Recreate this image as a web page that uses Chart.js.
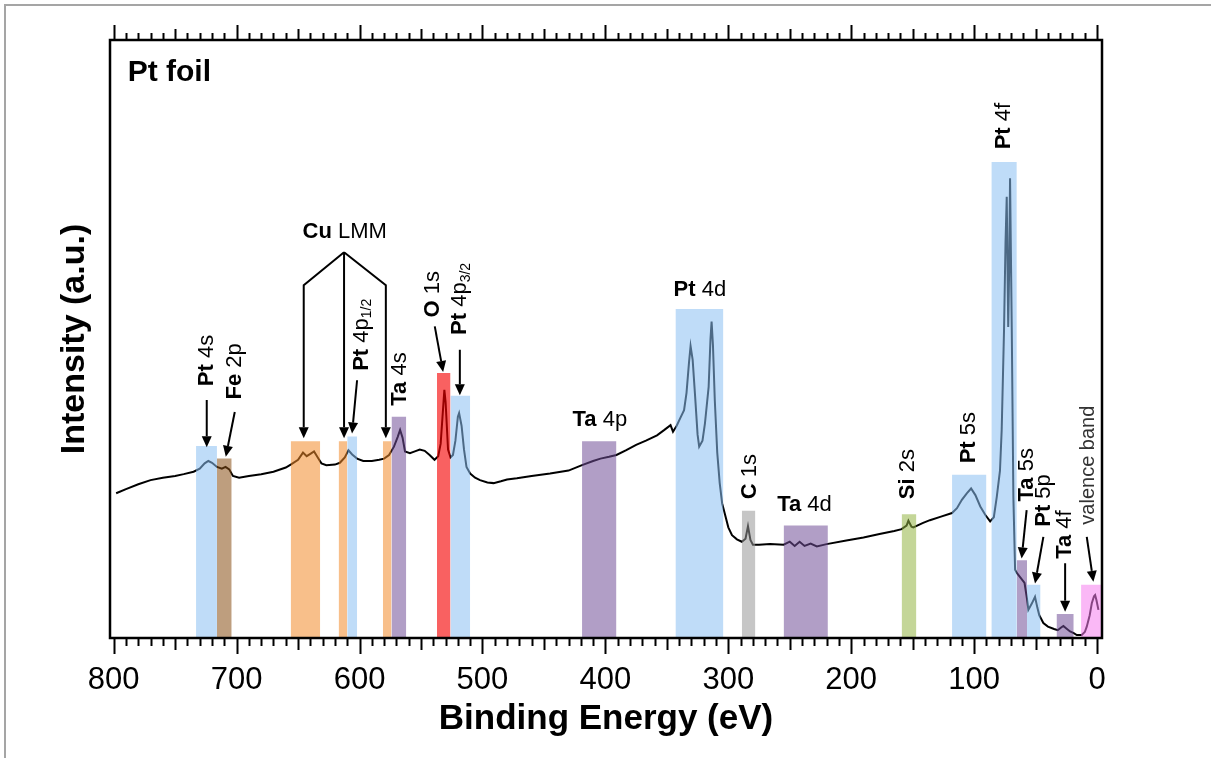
<!DOCTYPE html>
<html>
<head>
<meta charset="utf-8">
<title>Pt foil XPS survey</title>
<script src="https://cdn.jsdelivr.net/npm/chart.js@4.4.1/dist/chart.umd.min.js"></script>
<style>
  html, body { margin: 0; padding: 0; background: #fff; }
  #wrap { position: relative; width: 1211px; height: 758px; }
</style>
</head>
<body>
<div id="wrap"><canvas id="xps-chart"></canvas></div>
<script>
// survey spectrum, binding energy (eV) and intensity (a.u.)
const energy = [
  798, 790, 780, 770, 760, 750, 743, 735, 730, 726,
  723, 720, 716, 712, 709, 706, 703, 698, 690, 680,
  670, 660, 656, 650, 646, 643, 640, 637, 634, 631,
  627, 620, 616, 612, 609, 606, 602, 597, 590, 584,
  580, 576, 572, 569, 567, 565, 563, 559, 555, 551,
  547, 543, 539, 536, 534, 532, 531, 530, 528, 526,
  524, 522, 520, 519, 517, 515, 513, 510, 506, 502,
  496, 491, 485, 480, 472, 460, 445, 430, 419, 410,
  404, 397, 391, 383, 375, 367, 358, 352, 347, 345,
  342, 339, 336, 334, 332, 330.7, 329, 327, 325, 323.7,
  321, 319, 316, 314.5, 313.6, 312.5, 311, 309, 307, 305,
  303, 300, 297, 293, 289, 286, 284, 282, 280, 275,
  266, 255, 250, 246, 242, 238, 233, 228, 220, 204,
  190, 177, 165, 159, 155, 153.5, 151, 149.5, 142, 136,
  127, 118, 114, 110, 106, 102.5, 99, 95, 91, 87,
  84, 81.6, 79, 77.6, 75.7, 74.5, 73.5, 72.3, 71.5, 70.8,
  69.4, 68.1, 66.7, 65, 62, 59, 57, 55.9, 53, 50.5,
  48.5, 47, 43.7, 40, 35, 32, 29, 27.4, 25, 22,
  19, 16.5, 12.5, 10, 8.4, 6, 4.3, 2.5, 1.6, 0.5,
  -1.1
];
const intensity = [
  24.2, 24.9, 25.7, 26.4, 26.8, 27.1, 27.4, 27.8, 28.3, 29.2,
  29.6, 29.3, 28.6, 28.3, 28.6, 28.2, 27.1, 26.8, 27.1, 27.4,
  27.8, 28.5, 29.0, 29.8, 31.0, 30.4, 30.8, 31.2, 30.2, 29.2,
  28.9, 29.0, 29.3, 30.2, 31.4, 30.7, 30.0, 29.6, 29.6, 29.8,
  30.0, 30.6, 32.0, 33.6, 34.8, 33.5, 31.2, 30.9, 31.2, 31.5,
  31.3, 30.6, 29.8, 30.4, 32.5, 38.5, 41.5, 39.5, 31.5, 30.2,
  30.6, 33.0, 37.0, 37.6, 35.5, 31.5, 28.6, 27.5, 26.8, 26.4,
  26.0, 25.9, 26.2, 26.5, 26.7, 27.1, 27.5, 28.0, 28.9, 29.6,
  30.0, 30.3, 30.6, 31.4, 32.3, 33.0, 33.9, 34.8, 35.6, 34.5,
  35.5, 36.8, 38.1, 41.0, 46.0, 48.8, 46.5, 40.4, 34.0, 32.0,
  33.0, 35.9, 42.0, 50.0, 52.9, 49.0, 39.8, 31.0, 25.9, 22.5,
  20.9, 18.5, 17.2, 16.5, 16.1, 16.6, 18.7, 16.4, 15.6, 15.6,
  15.7, 15.6, 16.1, 15.4, 16.1, 15.4, 15.8, 15.3, 15.7, 16.3,
  16.8, 17.4, 17.9, 18.2, 18.8, 19.6, 18.6, 18.5, 19.2, 19.7,
  20.3, 20.9, 21.7, 23.1, 24.2, 25.0, 23.9, 22.0, 20.6, 19.5,
  20.2, 23.6, 28.0, 34.8, 51.5, 66.0, 73.8, 52.0, 62.0, 76.9,
  51.5, 23.6, 11.4, 10.8, 10.0, 9.2, 6.5, 4.7, 5.8, 6.9,
  5.0, 3.8, 2.5, 1.9, 1.5, 1.3, 1.8, 2.0, 1.6, 1.1,
  0.8, 0.5, 0.5, 1.0, 1.9, 3.8, 5.8, 7.0, 7.2, 6.3,
  4.7
];

// marked regions (eV from, eV to, height)
const bandNames   = ['Pt 4s', 'Fe 2p', 'Cu LMM', 'Cu LMM', 'Pt 4p1/2', 'Cu LMM', 'Ta 4s', 'O 1s', 'Pt 4p3/2', 'Ta 4p',
                     'Pt 4d', 'C 1s', 'Ta 4d', 'Si 2s', 'Pt 5s', 'Pt 4f', 'Ta 5s', 'Pt 5p', 'Ta 4f', 'valence band'];
const bandElement = ['Pt', 'Fe', 'Cu', 'Cu', 'Pt', 'Cu', 'Ta', 'O', 'Pt', 'Ta',
                     'Pt', 'C', 'Ta', 'Si', 'Pt', 'Pt', 'Ta', 'Pt', 'Ta', 'VB'];
const bandFrom = [733, 716, 656, 617, 610, 581, 574, 537, 526, 419, 343, 289, 255, 159, 118, 86, 65.3, 57, 33, 13];
const bandTo   = [716, 704, 632, 610, 602, 574, 562, 526, 510, 391, 304, 278, 219, 147, 90, 65.3, 57, 46, 19, -4];
const bandTop  = [32.1, 30.0, 32.9, 32.9, 33.7, 32.9, 37.0, 44.3, 40.5, 32.9, 55.0, 21.3, 18.8, 20.7, 27.3, 79.6, 13.0, 8.9, 4.0, 8.9];

const xTicks = [800, 700, 600, 500, 400, 300, 200, 100, 0];

const elementColors = {
  Pt: 'rgba(139, 191, 242, 0.55)',
  Fe: 'rgba(137, 79, 20, 0.55)',
  Cu: 'rgba(242, 139, 42, 0.55)',
  Ta: 'rgba(113, 78, 151, 0.55)',
  O:  'rgba(245, 0, 0, 0.62)',
  C:  'rgba(151, 151, 151, 0.55)',
  Si: 'rgba(148, 180, 68, 0.55)',
  VB: 'rgba(246, 126, 239, 0.55)'
};

// annotations in data coordinates
const peakLabels = [
  { parts: [['Pt foil', 'B']], x: 788.6, y: 94.6, align: 'left' },
  { parts: [['Pt', 'b'], [' 4s', 'n']], x: 724.3, y: 46.4, rot: true },
  { parts: [['Fe', 'b'], [' 2p', 'n']], x: 701.5, y: 44.6, rot: true },
  { parts: [['Cu', 'b'], [' LMM', 'n']], x: 612.0, y: 67.9 },
  { parts: [['Pt', 'b'], [' 4p', 'n'], ['1/2', 's']], x: 598.4, y: 50.7, rot: true },
  { parts: [['Ta', 'b'], [' 4s', 'n']], x: 567.2, y: 43.3, rot: true },
  { parts: [['O', 'b'], [' 1s', 'n']], x: 540.1, y: 57.5, rot: true },
  { parts: [['Pt', 'b'], [' 4p', 'n'], ['3/2', 's']], x: 518.4, y: 56.7, rot: true },
  { parts: [['Ta', 'b'], [' 4p', 'n']], x: 404.5, y: 36.5 },
  { parts: [['Pt', 'b'], [' 4d', 'n']], x: 323.1, y: 58.2 },
  { parts: [['C', 'b'], [' 1s', 'n']], x: 282.8, y: 27.0, rot: true },
  { parts: [['Ta', 'b'], [' 4d', 'n']], x: 238.0, y: 22.2 },
  { parts: [['Si', 'b'], [' 2s', 'n']], x: 153.6, y: 27.4, rot: true },
  { parts: [['Pt', 'b'], [' 5s', 'n']], x: 103.9, y: 33.5, rot: true },
  { parts: [['Pt', 'b'], [' 4f', 'n']], x: 75.7, y: 85.6, rot: true },
  { parts: [['Ta', 'b'], [' 5s', 'n']], x: 57.2, y: 27.3, rot: true },
  { parts: [['Pt', 'b'], [' 5p', 'n']], x: 43.1, y: 23.0, rot: true },
  { parts: [['Ta', 'b'], [' 4f', 'n']], x: 26.0, y: 17.3, rot: true },
  { parts: [['valence band', 't']], x: 7.1, y: 28.9, rot: true }
];

const arrows = [
  [[724.3, 39.8], [724.3, 31.9]],
  [[701.5, 37.8], [708.8, 30.3]],
  [[612.6, 64.5], [645.4, 59.0], [645.4, 33.4]],
  [[612.6, 64.5], [612.6, 33.4]],
  [[612.6, 64.5], [578.6, 59.0], [578.6, 33.4]],
  [[602.0, 43.1], [606.1, 34.2]],
  [[538.8, 52.1], [532.0, 44.5]],
  [[518.4, 48.2], [518.4, 40.6]],
  [[57.3, 21.4], [61.4, 13.3]],
  [[43.7, 16.9], [50.5, 9.1]],
  [[26.0, 12.5], [26.0, 4.4]],
  [[8.4, 16.9], [3.0, 9.4]]
];

const FONT = "'Liberation Sans', Arial, sans-serif";
const labelFonts = {
  B: 'bold 30px ' + FONT,
  b: 'bold 22px ' + FONT,
  n: '22px ' + FONT,
  s: '14px ' + FONT,
  t: '20px ' + FONT
};

function drawArrow(ctx, pts) {
  ctx.beginPath();
  const n = pts.length;
  const [tx, ty] = pts[n - 1];
  const [px, py] = pts[n - 2];
  const ang = Math.atan2(ty - py, tx - px);
  const head = 11;
  ctx.moveTo(pts[0][0], pts[0][1]);
  for (let i = 1; i < n - 1; i++) ctx.lineTo(pts[i][0], pts[i][1]);
  ctx.lineTo(tx - Math.cos(ang) * head, ty - Math.sin(ang) * head);
  ctx.stroke();
  ctx.beginPath();
  ctx.moveTo(tx, ty);
  ctx.lineTo(tx - Math.cos(ang) * head - Math.sin(ang) * 5, ty - Math.sin(ang) * head + Math.cos(ang) * 5);
  ctx.lineTo(tx - Math.cos(ang) * head + Math.sin(ang) * 5, ty - Math.sin(ang) * head - Math.cos(ang) * 5);
  ctx.closePath();
  ctx.fill();
}

function drawLabel(ctx, lab, xs, ys) {
  const px = xs.getPixelForValue(lab.x);
  const py = ys.getPixelForValue(lab.y);
  let total = 0;
  const widths = lab.parts.map(([t, k]) => {
    ctx.font = labelFonts[k];
    const w = ctx.measureText(t).width;
    total += w;
    return w;
  });
  ctx.save();
  ctx.translate(px, py);
  if (lab.rot) ctx.rotate(-Math.PI / 2);
  ctx.textBaseline = 'middle';
  ctx.textAlign = 'left';
  ctx.fillStyle = lab.parts[0][1] === 't' ? '#333' : '#000';
  let cx = lab.align === 'left' ? 0 : -total / 2;
  lab.parts.forEach(([t, k], i) => {
    ctx.font = labelFonts[k];
    ctx.fillText(t, cx, k === 's' ? 6 : 0);
    cx += widths[i];
  });
  ctx.restore();
}

const xpsDecor = {
  id: 'xpsDecor',
  beforeDraw(chart) {
    const ctx = chart.ctx;
    ctx.save();
    ctx.strokeStyle = '#a5a5a5';
    ctx.lineWidth = 2;
    ctx.beginPath();
    ctx.moveTo(4, 5);
    ctx.lineTo(chart.width, 5);
    ctx.moveTo(5, 4);
    ctx.lineTo(5, chart.height);
    ctx.stroke();
    ctx.restore();
  },
  afterDatasetsDraw(chart) {
    const ctx = chart.ctx;
    const area = chart.chartArea;
    const xs = chart.scales.x;
    const ys = chart.scales.y;
    ctx.save();

    // frame and tick marks on bottom and top
    ctx.strokeStyle = '#000';
    ctx.fillStyle = '#000';
    ctx.lineWidth = 2.5;
    ctx.strokeRect(area.left, area.top, area.right - area.left, area.bottom - area.top);
    ctx.lineWidth = 2;
    ctx.beginPath();
    for (let e = 0; e <= 800; e += 10) {
      const px = Math.round(xs.getPixelForValue(e)) + 0.5;
      const major = e % 100 === 0;
      const mid = e % 50 === 0;
      const down = major ? 16 : mid ? 12 : 8;
      const up = major ? 15 : mid ? 11 : 7;
      ctx.moveTo(px, area.bottom);
      ctx.lineTo(px, area.bottom + down);
      ctx.moveTo(px, area.top);
      ctx.lineTo(px, area.top - up);
    }
    ctx.stroke();

    // arrows
    ctx.lineWidth = 2;
    arrows.forEach(a => {
      drawArrow(ctx, a.map(([e, v]) => [xs.getPixelForValue(e), ys.getPixelForValue(v)]));
    });

    // labels
    peakLabels.forEach(lab => drawLabel(ctx, lab, xs, ys));
    ctx.restore();
  }
};

const bandDatasets = bandNames.map((name, i) => ({
  label: name,
  data: [{ x: bandFrom[i], y: bandTop[i] }, { x: bandTo[i], y: bandTop[i] }],
  showLine: true,
  fill: 'origin',
  backgroundColor: elementColors[bandElement[i]],
  borderColor: 'rgba(0,0,0,0)',
  borderWidth: 0,
  pointRadius: 0,
  order: 0
}));

const spectrum = {
  label: 'Pt foil',
  data: energy.map((e, i) => ({ x: e, y: intensity[i] })),
  showLine: true,
  fill: false,
  borderColor: '#000',
  borderWidth: 2,
  pointRadius: 0,
  tension: 0,
  order: 1
};

const ctx = document.getElementById('xps-chart').getContext('2d');
new Chart(ctx, {
  type: 'scatter',
  data: { datasets: [...bandDatasets, spectrum] },
  options: {
    responsive: true,
    maintainAspectRatio: false,
    animation: false,
    layout: { padding: { top: 40, right: 109, bottom: 0, left: 0 } },
    plugins: {
      legend: { display: false },
      tooltip: { enabled: false }
    },
    scales: {
      x: {
        type: 'linear',
        position: 'bottom',
        reverse: true,
        min: -4,
        max: 803,
        afterBuildTicks: scale => { scale.ticks = xTicks.map(v => ({ value: v })); },
        afterFit: scale => { scale.height = 120; },
        grid: { display: false, drawTicks: false },
        border: { display: false },
        ticks: {
          autoSkip: false,
          maxRotation: 0,
          includeBounds: false,
          padding: 24,
          color: '#000',
          font: { family: FONT, size: 31, lineHeight: 1.2 }
        },
        title: {
          display: true,
          text: 'Binding Energy (eV)',
          color: '#000',
          padding: { top: 0, bottom: 18 },
          font: { family: FONT, size: 35, weight: 'bold', lineHeight: 1.2 }
        }
      },
      y: {
        type: 'linear',
        min: 0,
        max: 100,
        afterFit: scale => { scale.width = 110; },
        grid: { display: false, drawTicks: false },
        border: { display: false },
        ticks: { display: false },
        title: {
          display: true,
          text: 'Intensity (a.u.)',
          color: '#000',
          padding: { top: 54, bottom: 0 },
          font: { family: FONT, size: 34, weight: 'bold', lineHeight: 1.2 }
        }
      }
    }
  },
  plugins: [xpsDecor]
});
</script>
</body>
</html>
